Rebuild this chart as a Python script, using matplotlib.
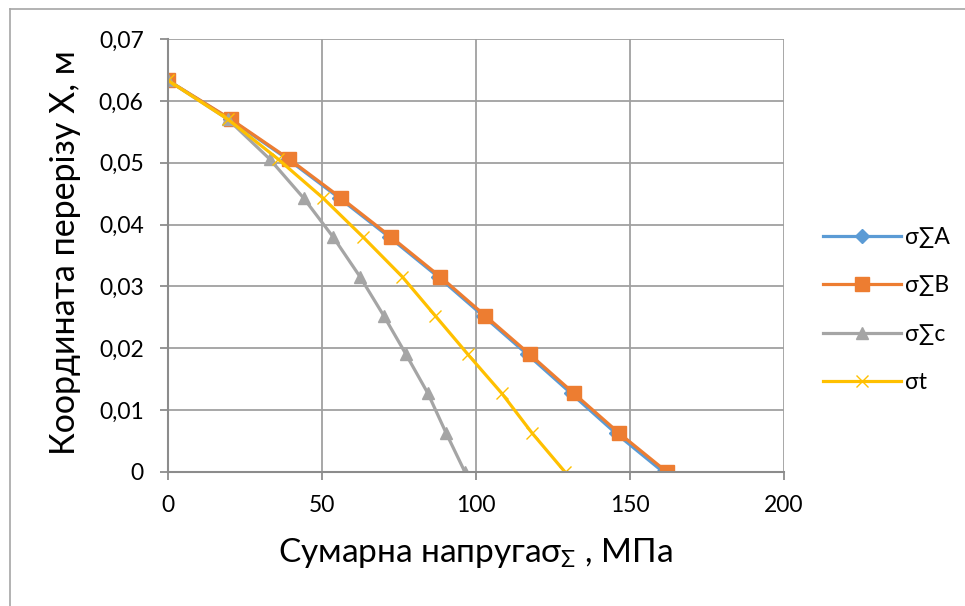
import matplotlib
matplotlib.use('Agg')
import matplotlib.pyplot as plt
from matplotlib.lines import Line2D
from matplotlib.ticker import FuncFormatter

# data
x_coord = [0.0633, 0.057, 0.0506, 0.0443, 0.038, 0.0316, 0.0253, 0.019, 0.0127, 0.0063, 0.0]
sigma_a = [0, 20.2, 38.8, 55.6, 71.8, 87.6, 102.2, 116.7, 130.9, 145.3, 160.8]
sigma_b = [0, 20.5, 39.3, 56.2, 72.4, 88.3, 102.9, 117.5, 131.8, 146.4, 162.0]
sigma_c = [0, 19.5, 33.0, 44.0, 53.6, 62.3, 70.0, 77.3, 84.4, 90.3, 96.4]
sigma_t = [0, 19.5, 35.7, 50.3, 63.3, 76.0, 86.7, 97.4, 108.4, 118.2, 128.9]
names = ['σ∑A', 'σ∑B', 'σ∑c', 'σt']

plt.rcParams['font.family'] = ['Lato', 'DejaVu Sans']

W, H = 965, 606
fig = plt.figure(figsize=(W / 100, H / 100), dpi=100)
ax = fig.add_axes([168 / W, 1 - 472 / H, (784 - 168) / W, (472 - 39) / H])

# outer chart border (only top and left visible)
fig.add_artist(Line2D([10 / W, 10 / W], [0, 1 - 9 / H], transform=fig.transFigure, color='#a6a6a6', lw=1.2))
fig.add_artist(Line2D([10 / W, 1], [1 - 9 / H, 1 - 9 / H], transform=fig.transFigure, color='#a6a6a6', lw=1.2))

ax.plot(sigma_a, x_coord, color='#5b9bd5', lw=2.3, marker='D', ms=7, label=names[0])
ax.plot(sigma_b, x_coord, color='#ed7d31', lw=2.3, marker='s', ms=10, label=names[1])
ax.plot(sigma_c, x_coord, color='#a5a5a5', lw=2.3, marker='^', ms=9, label=names[2])
ax.plot(sigma_t, x_coord, color='#ffc000', lw=2.3, marker='x', ms=9, mew=1.0, label=names[3])

ax.set_xlim(0, 200)
ax.set_ylim(0, 0.07)
ax.set_xticks([0, 50, 100, 150, 200])
ax.set_yticks([i / 100 for i in range(8)])
ax.yaxis.set_major_formatter(FuncFormatter(lambda v, p: '0' if v == 0 else ('%.2f' % v).replace('.', ',')))
ax.grid(True, color='#a0a0a0', lw=1.3)
ax.set_axisbelow(True)
for s in ['top', 'right']:
    ax.spines[s].set_visible(False)
for s in ['left', 'bottom']:
    ax.spines[s].set_color('#8c8c8c')
    ax.spines[s].set_linewidth(1.5)
ax.tick_params(direction='out', length=5.5, width=1.3, color='#8c8c8c', labelsize=16.5)
ax.tick_params(axis='y', pad=12)
ax.tick_params(axis='x', pad=11)

fig.text(65 / W, 1 - 253 / H, 'Координата перерізу Х, м', rotation=90, ha='center', va='center', fontsize=24.5)
fig.text(475 / W, 1 - 553 / H, 'Сумарна напруга$\\mathregular{σ_{Σ}}$ , МПа', ha='center', va='center', fontsize=24)

fig.legend(loc='center left', bbox_to_anchor=(823 / W, 1 - 310 / H), frameon=False, fontsize=16.5,
           handlelength=3.4, handletextpad=0.2, labelspacing=1.2, borderpad=0, borderaxespad=0)

fig.savefig('out.png', dpi=100)
